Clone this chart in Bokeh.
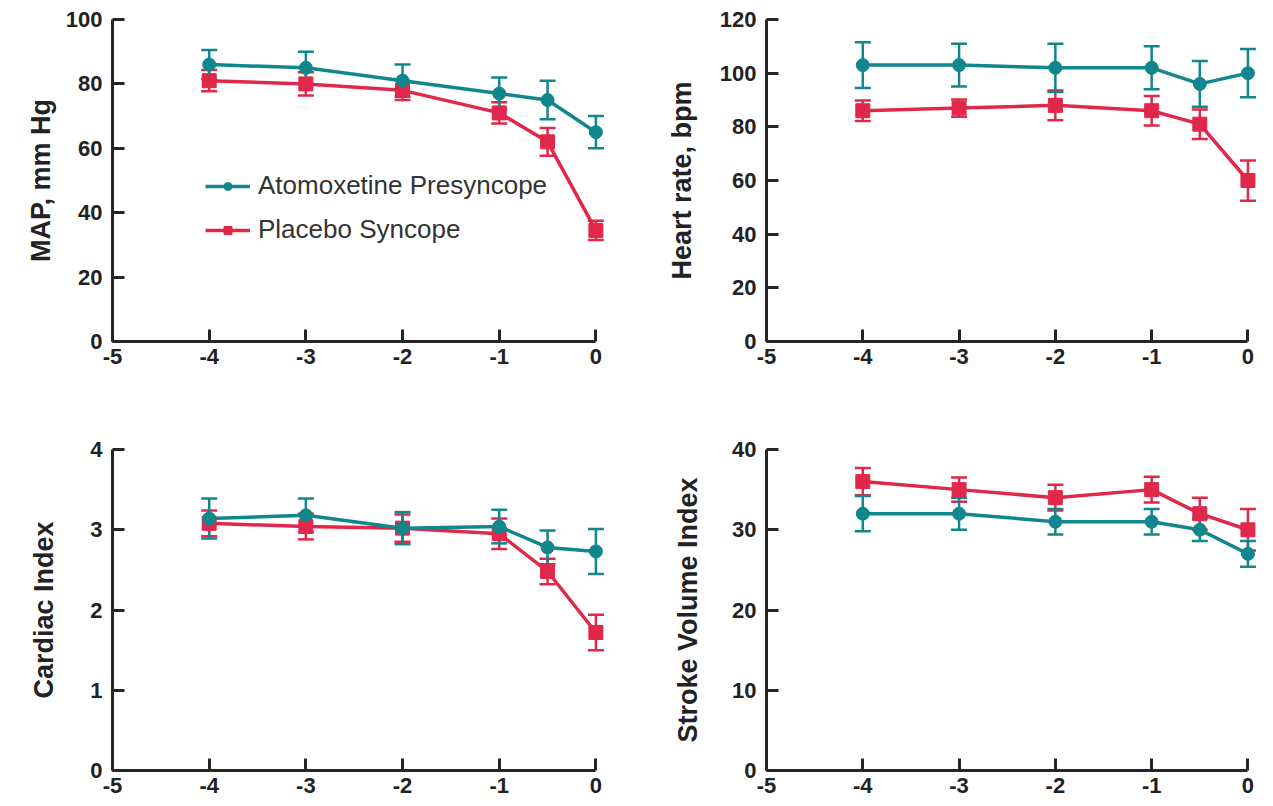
from bokeh.plotting import figure
from bokeh.layouts import column, row
from bokeh.models import (ColumnDataSource, Whisker, TeeHead, FixedTicker, Range1d,
                          Legend, LegendItem)
from bokeh.embed import file_html
from bokeh.resources import INLINE

# ---------------- data ----------------
time_min = [-4, -3, -2, -1, -0.5, 0]
x_ticks = [-5, -4, -3, -2, -1, 0]

map_ato = [86, 85, 81, 77, 75, 65]
map_ato_se = [4.5, 5.0, 5.0, 5.0, 6.0, 5.0]
map_pla = [81, 80, 78, 71, 62, 34.5]
map_pla_se = [3.3, 3.6, 3.0, 3.3, 4.3, 3.0]

hr_ato = [103, 103, 102, 102, 96, 100]
hr_ato_se = [8.5, 8.0, 9.0, 8.0, 8.5, 9.0]
hr_pla = [86, 87, 88, 86, 81, 60]
hr_pla_se = [3.8, 3.2, 5.5, 5.5, 5.5, 7.5]

ci_ato = [3.14, 3.18, 3.02, 3.04, 2.78, 2.73]
ci_ato_se = [0.25, 0.21, 0.20, 0.21, 0.21, 0.28]
ci_pla = [3.08, 3.04, 3.02, 2.95, 2.48, 1.72]
ci_pla_se = [0.16, 0.16, 0.17, 0.19, 0.16, 0.22]

svi_ato = [32, 32, 31, 31, 30, 27]
svi_ato_se = [2.2, 2.0, 1.6, 1.6, 1.4, 1.6]
svi_pla = [36, 35, 34, 35, 32, 30]
svi_pla_se = [1.7, 1.5, 1.6, 1.6, 2.0, 2.6]

map_ticks = [0, 20, 40, 60, 80, 100]
hr_ticks = [0, 20, 40, 60, 80, 100, 120]
ci_ticks = [0, 1, 2, 3, 4]
svi_ticks = [0, 10, 20, 30, 40]

series_names = ["Atomoxetine Presyncope", "Placebo Syncope"]

TEAL = "#10868d"
RED = "#e0284a"
AXC = "#262626"
FONT = "Liberation Sans"


def make_panel(ato, ato_se, pla, pla_se, yticks, ylabel, fw, left, right, top, fh,
               bottom, label_standoff, legend=False):
    p = figure(frame_width=fw, frame_height=fh,
               x_range=Range1d(-5, 0.12), y_range=Range1d(yticks[0], yticks[-1]),
               output_backend="svg", toolbar_location=None,
               min_border_left=left, min_border_right=right,
               min_border_top=top, min_border_bottom=bottom)
    p.grid.visible = False
    p.outline_line_color = None
    p.background_fill_color = "white"
    p.border_fill_color = "white"

    for ax in (p.xaxis, p.yaxis):
        ax.axis_line_color = AXC
        ax.axis_line_width = 3
        ax.major_tick_line_color = AXC
        ax.major_tick_line_width = 3
        ax.major_tick_in = 12
        ax.major_tick_out = 0
        ax.minor_tick_line_color = None
        ax.major_label_text_font = FONT
        ax.major_label_text_font_style = "bold"
        ax.major_label_text_font_size = "22px"
        ax.major_label_text_color = "#222222"
        ax.major_label_standoff = 10
    p.xaxis.major_label_standoff = 7

    p.xaxis.ticker = FixedTicker(ticks=x_ticks)
    p.xaxis.major_label_overrides = {t: str(t) for t in x_ticks}
    p.xaxis.bounds = (x_ticks[0], x_ticks[-1])
    p.yaxis.ticker = FixedTicker(ticks=yticks)
    p.yaxis.bounds = (yticks[0], yticks[-1])
    p.yaxis.axis_label = ylabel
    p.yaxis.axis_label_text_font = FONT
    p.yaxis.axis_label_text_font_style = "bold"
    p.yaxis.axis_label_text_font_size = "27px"
    p.yaxis.axis_label_text_color = "#222222"
    p.yaxis.axis_label_standoff = label_standoff

    renderers = {}
    for name, vals, se, color, marker, msize in (
            ("pla", pla, pla_se, RED, "square", 14),
            ("ato", ato, ato_se, TEAL, "circle", 13)):
        src = ColumnDataSource(dict(
            x=time_min, y=vals,
            lower=[v - s for v, s in zip(vals, se)],
            upper=[v + s for v, s in zip(vals, se)]))
        w = Whisker(base="x", lower="lower", upper="upper", source=src,
                    line_color=color, line_width=2.5,
                    upper_head=TeeHead(size=16, line_color=color, line_width=2.5),
                    lower_head=TeeHead(size=16, line_color=color, line_width=2.5))
        p.add_layout(w)
        ln = p.line("x", "y", source=src, line_color=color, line_width=3.5)
        sc = p.scatter("x", "y", source=src, marker=marker, size=msize,
                       fill_color=color, line_color=color)
        renderers[name] = (ln, sc)

    if legend:
        lg = Legend(items=[
            LegendItem(label=series_names[0], renderers=list(renderers["ato"])),
            LegendItem(label=series_names[1], renderers=list(renderers["pla"])),
        ], location=(93, 96))
        lg.glyph_width = 45
        lg.glyph_height = 20
        lg.label_standoff = 8
        lg.padding = 0
        lg.margin = 0
        lg.spacing = 13
        lg.label_text_font = FONT
        lg.label_text_font_size = "26px"
        lg.label_text_color = "#333333"
        lg.background_fill_alpha = 0
        lg.border_line_alpha = 0
        p.add_layout(lg)
    return p


p1 = make_panel(map_ato, map_ato_se, map_pla, map_pla_se, map_ticks, "MAP, mm Hg",
                fw=495, left=112, right=43, top=19, fh=322, bottom=59,
                label_standoff=7, legend=True)
p2 = make_panel(hr_ato, hr_ato_se, hr_pla, hr_pla_se, hr_ticks, "Heart rate, bpm",
                fw=493, left=116, right=6, top=19, fh=322, bottom=59,
                label_standoff=20)
p3 = make_panel(ci_ato, ci_ato_se, ci_pla, ci_pla_se, ci_ticks, "Cardiac Index",
                fw=495, left=112, right=43, top=49, fh=321, bottom=34,
                label_standoff=28)
p4 = make_panel(svi_ato, svi_ato_se, svi_pla, svi_pla_se, svi_ticks, "Stroke Volume Index",
                fw=493, left=116, right=6, top=49, fh=321, bottom=34,
                label_standoff=26)

layout = column(row(p1, p2, spacing=0), row(p3, p4, spacing=0), spacing=0)

with open("out.html", "w") as f:
    f.write(file_html(layout, INLINE))
